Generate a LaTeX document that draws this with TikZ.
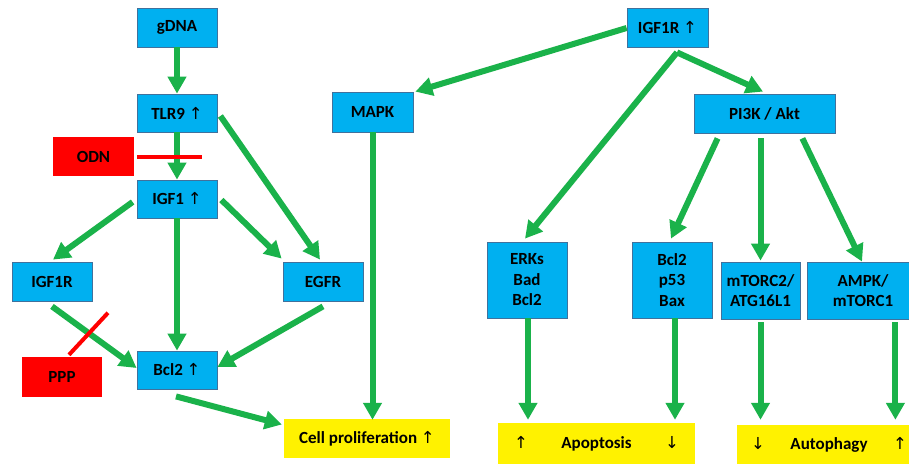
\documentclass[tikz,border=0pt]{standalone}
\usepackage{fontspec}
\setmainfont{Carlito}
\newfontfamily\arrowfont{DejaVu Sans}
\usetikzlibrary{arrows.meta,calc}
\definecolor{boxblue}{HTML}{00B0F0}
\definecolor{boxedge}{HTML}{41719C}
\definecolor{arrgreen}{RGB}{26,178,74}
\newcommand\uparr{{\arrowfont\mdseries\fontsize{16.5}{16}\selectfont ↑}}
\newcommand\dnarr{{\arrowfont\mdseries\fontsize{16.5}{16}\selectfont ↓}}
\begin{document}
\begin{tikzpicture}[x=1pt,y=-1pt,
  txt/.style={font=\bfseries\fontsize{17}{20.5}\selectfont,align=center,inner sep=0pt},
  bluebox/.style={txt,draw=boxedge,line width=0.8pt,fill=boxblue},
  redbox/.style={txt,fill=red},
  yelbox/.style={txt,fill=yellow},
  garrow/.style={draw=arrgreen,line width=6pt,-{Triangle[length=17pt,width=18pt]}},
  redline/.style={draw=red,line width=4pt}]
\useasboundingbox (0,0) rectangle (909,463);
\clip (0,0) rectangle (909,463);
\fill[white] (0,0) rectangle (909,463);
% left part
\node[bluebox,minimum width=80pt,minimum height=39pt] (gdna) at (177,27.5) {gDNA};
\node[bluebox,minimum width=80pt,minimum height=38pt] (tlr9) at (177,113) {TLR9 \uparr};
\node[redbox,minimum width=81pt,minimum height=39pt] (odn) at (93.5,156.5) {ODN};
\node[bluebox,minimum width=80pt,minimum height=38pt] (igf1) at (177,199) {IGF1 \uparr};
\node[bluebox,minimum width=80pt,minimum height=39pt] (igf1r) at (52,281.5) {IGF1R};
\node[bluebox,minimum width=80pt,minimum height=39pt] (egfr) at (323,281.5) {EGFR};
\node[redbox,minimum width=80pt,minimum height=40pt] (ppp) at (62,377) {PPP};
\node[bluebox,minimum width=80pt,minimum height=38pt] (bcl2) at (177,370) {Bcl2 \uparr};
\node[yelbox,minimum width=166pt,minimum height=39pt] (cellp) at (367,438.5) {Cell proliferation \uparr};
\node[bluebox,minimum width=81pt,minimum height=40pt] (mapk) at (372.5,112) {MAPK};
% right part
\node[bluebox,minimum width=81pt,minimum height=39pt] (igf1rt) at (667.5,27.5) {IGF1R \uparr};
\node[bluebox,minimum width=141pt,minimum height=39pt] (pi3k) at (764.5,113.5) {PI3K / Akt};
\node[bluebox,minimum width=80pt,minimum height=76pt] (erks) at (527,280) {ERKs\\Bad\\Bcl2};
\node[bluebox,minimum width=80pt,minimum height=76pt] (bpb) at (672,280) {Bcl2\\p53\\Bax};
\node[bluebox,minimum width=79pt,minimum height=57pt] (mtorc2) at (760.5,290.5) {mTORC2/\\ATG16L1};
\node[bluebox,minimum width=112pt,minimum height=57pt] (ampk) at (863,290.5) {AMPK/\\mTORC1};
\node[yelbox,minimum width=197pt,minimum height=42pt,text width=165pt] (apop) at (596.5,444) {\uparr\hfill Apoptosis\hfill\dnarr};
\node[yelbox,minimum width=184pt,minimum height=40pt,text width=156pt] (autoph) at (829,445) {\dnarr\hfill Autophagy\hfill\uparr};
% green arrows, left
\draw[garrow] (gdna.south) -- (tlr9.north);
\draw[garrow] (tlr9.south) -- (igf1.north);
\draw[garrow] ($(tlr9.east)+(3,3)$) -- ($(egfr.north)+(-3,-2)$);
\draw[garrow] ($(igf1.west)+(-4,3)$) -- ($(igf1r.north)+(1,-2)$);
\draw[garrow] (igf1.south) -- (bcl2.north);
\draw[garrow] ($(igf1.east)+(4,1)$) -- ($(egfr.north west)+(-1,-3)$);
\draw[garrow] ($(igf1r.south)+(0,5)$) -- ($(bcl2.west)+(0,-2)$);
\draw[garrow] ($(egfr.south)+(0,5)$) -- ($(bcl2.east)+(0,-3)$);
\draw[garrow] ($(bcl2.south)+(-1,7)$) -- ($(cellp.west)+(-2,-14)$);
\draw[garrow] (mapk.south) -- ($(mapk.south |- cellp.north)+(0,1)$);
% green arrows, right
\draw[garrow] ($(igf1rt.west)+(0,0.5)$) -- ($(mapk.north east)+(2,0)$);
\draw[garrow] ($(igf1rt.south)+(9.5,5)$) -- ($(erks.north)+(-2,-3)$);
\draw[garrow] ($(igf1rt.south)+(9.5,5)$) -- ($(pi3k.north)+(-1.5,-2)$);
\draw[garrow] ($(pi3k.south west)+(24,5)$) -- ($(bpb.north)+(-1,-3)$);
\draw[garrow] ($(mtorc2.north |- pi3k.south)+(0,5)$) -- ($(mtorc2.north)+(0,-1)$);
\draw[garrow] ($(pi3k.south east)+(-33,5)$) -- ($(ampk.north)+(-1,0)$);
\draw[garrow] ($(erks.south)+(1,0)$) -- ($(erks.south |- apop.north)+(1,-3)$);
\draw[garrow] ($(bpb.south)+(3,0)$) -- ($(bpb.south |- apop.north)+(3,-3)$);
\draw[garrow] ($(mtorc2.south)+(0,3)$) -- ($(mtorc2.south |- autoph.north)+(0,-5)$);
\draw[garrow] ($(ampk.south east)+(-24,3)$) -- ($(ampk.south east |- autoph.north)+(-24,-5)$);
% inhibition lines
\draw[redline] ($(odn.east)+(3,0)$) -- ++(65,0);
\draw[redline] ($(ppp.north)+(7,-2)$) -- ++(39,-42);
\end{tikzpicture}
\end{document}
